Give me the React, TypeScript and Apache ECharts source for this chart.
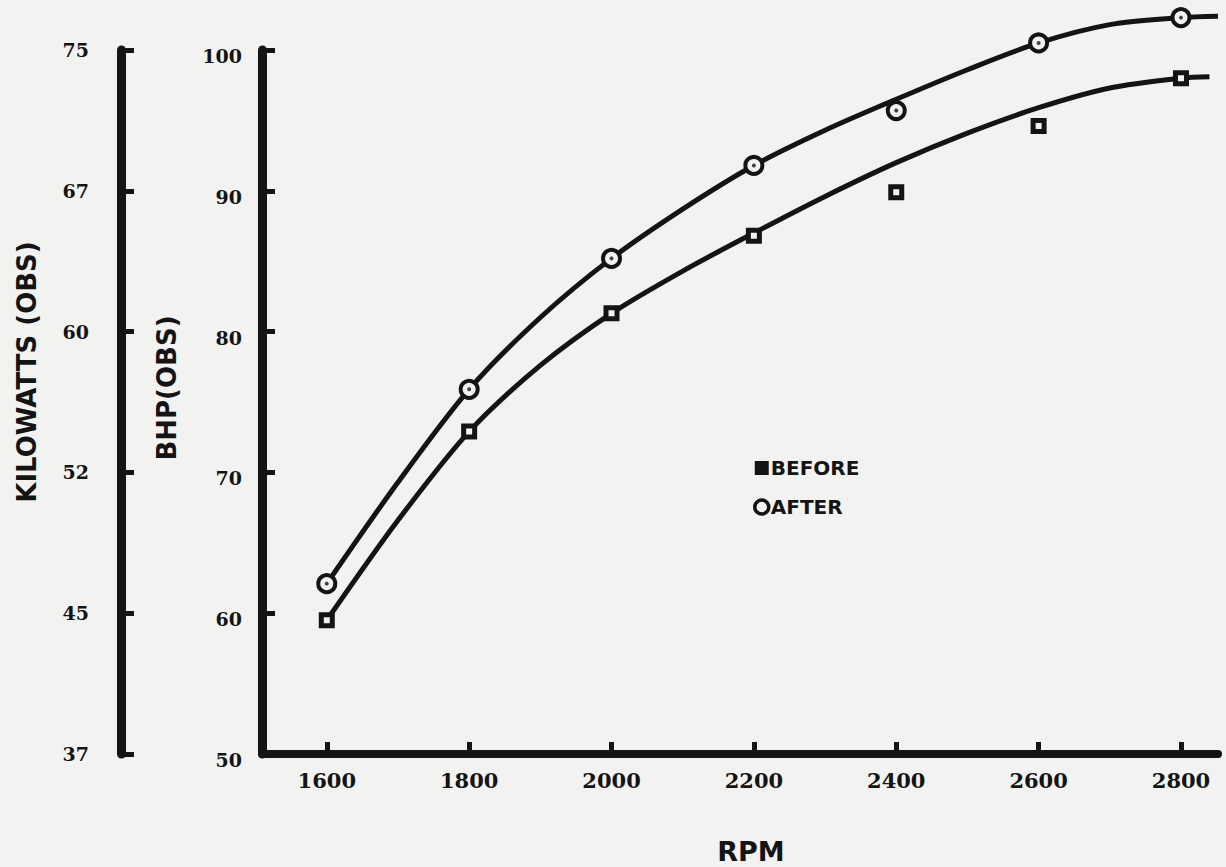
import React, { useEffect, useRef } from "react";
import * as echarts from "echarts";

const RPM = [1600, 1800, 2000, 2200, 2400, 2600, 2800];
const BEFORE_BHP = [59.5, 72.9, 81.3, 86.8, 89.9, 94.6, 98.0];
const AFTER_BHP = [62.1, 75.9, 85.2, 91.8, 95.7, 100.5, 102.3];

const BEFORE_FIT_RPM = [1600, 1700, 1800, 1900, 2000, 2100, 2200, 2300, 2400, 2500, 2600, 2700, 2800, 2840];
const BEFORE_FIT_BHP = [59.5, 66.6, 72.9, 77.6, 81.3, 84.3, 87.0, 89.6, 92.0, 94.1, 95.9, 97.3, 98.0, 98.1];
const AFTER_FIT_RPM = [1600, 1700, 1800, 1900, 2000, 2100, 2200, 2300, 2400, 2500, 2600, 2700, 2800, 2852];
const AFTER_FIT_BHP = [62.1, 69.3, 75.9, 81.0, 85.2, 88.7, 91.8, 94.3, 96.5, 98.6, 100.5, 101.8, 102.3, 102.4];

const RPM_TICKS = [1600, 1800, 2000, 2200, 2400, 2600, 2800];
const BHP_TICKS = [50, 60, 70, 80, 90, 100];
const KW_LABELS = ["37", "45", "52", "60", "67", "75"];

const INK = "#141414";
const BG = "#f2f2f0";

const pairs = (xs: number[], ys: number[]) => xs.map((x, i) => [x, ys[i]]);

export default function App() {
  const ref = useRef<HTMLDivElement>(null);
  useEffect(() => {
    if (!ref.current) return;
    const chart = echarts.init(ref.current, null, { renderer: "svg" });
    const serif = "DejaVu Serif";
    const heavy = "DejaVu Sans";
    const yLabel = { fontFamily: serif, fontWeight: "bold", fontSize: 19, color: INK };
    const tickStyle = { show: true, inside: true, length: 13, lineStyle: { color: INK, width: 5 } };
    chart.setOption({
      animation: false,
      backgroundColor: BG,
      grid: { left: 262, right: 8, top: 50, bottom: 113, outerBoundsMode: "none" },
      xAxis: {
        type: "value",
        min: 1509,
        max: 2852,
        splitLine: { show: false },
        axisLine: { lineStyle: { color: INK, width: 8, cap: "round" } },
        axisTick: { ...tickStyle, length: 12, customValues: RPM_TICKS },
        axisLabel: {
          customValues: RPM_TICKS,
          margin: 16,
          fontFamily: serif,
          fontWeight: "bold",
          fontSize: 21,
          color: INK,
          formatter: (v: number) => String(v),
        },
      },
      yAxis: [
        {
          type: "value",
          position: "left",
          min: 50,
          max: 100,
          interval: 10,
          splitLine: { show: false },
          axisLine: { show: true, lineStyle: { color: INK, width: 9, cap: "round" } },
          axisTick: tickStyle,
          axisLabel: {
            ...yLabel,
            margin: 20,
            formatter: (v: number) => `{a|${v}}`,
            rich: { a: { ...yLabel, padding: [12, 0, 0, 0] } },
          },
        },
        {
          type: "value",
          position: "left",
          offset: 141,
          min: 50,
          max: 100,
          interval: 10,
          splitLine: { show: false },
          axisLine: { show: true, lineStyle: { color: INK, width: 9, cap: "round" } },
          axisTick: tickStyle,
          axisLabel: {
            ...yLabel,
            margin: 32,
            formatter: (v: number) => KW_LABELS[BHP_TICKS.indexOf(Math.round(v))] ?? "",
          },
        },
      ],
      legend: {
        orient: "vertical",
        left: 753,
        top: 458,
        padding: 0,
        itemGap: 19,
        itemWidth: 14,
        itemHeight: 14,
        data: [
          { name: "BEFORE", icon: "rect", itemStyle: { color: INK, borderColor: INK, borderWidth: 0 } },
          { name: "AFTER", icon: "circle", itemStyle: { color: BG, borderColor: INK, borderWidth: 3.5 } },
        ],
        textStyle: { fontFamily: heavy, fontWeight: "bold", fontSize: 20, color: INK, padding: [0, 0, 0, -3] },
      },
      graphic: [
        {
          type: "text",
          x: 27,
          y: 372,
          rotation: Math.PI / 2,
          style: { text: "KILOWATTS (OBS)", font: `bold 26px '${heavy}'`, fill: INK, align: "center", verticalAlign: "middle" },
        },
        {
          type: "text",
          x: 167,
          y: 388,
          rotation: Math.PI / 2,
          style: { text: "BHP(OBS)", font: `bold 26px '${heavy}'`, fill: INK, align: "center", verticalAlign: "middle" },
        },
        {
          type: "text",
          x: 751,
          y: 851,
          style: { text: "RPM", font: `bold 27px '${heavy}'`, fill: INK, align: "center", verticalAlign: "middle" },
        },
      ],
      series: [
        {
          name: "before-fit",
          type: "line",
          data: pairs(BEFORE_FIT_RPM, BEFORE_FIT_BHP),
          smooth: 0.3,
          showSymbol: false,
          clip: false,
          lineStyle: { color: INK, width: 5 },
          z: 2,
        },
        {
          name: "after-fit",
          type: "line",
          data: pairs(AFTER_FIT_RPM, AFTER_FIT_BHP),
          smooth: 0.3,
          showSymbol: false,
          clip: false,
          lineStyle: { color: INK, width: 5 },
          z: 2,
        },
        {
          name: "BEFORE",
          type: "scatter",
          data: pairs(RPM, BEFORE_BHP),
          symbol: "rect",
          symbolSize: 11,
          clip: false,
          itemStyle: { color: BG, borderColor: INK, borderWidth: 5, opacity: 1 },
          z: 3,
        },
        {
          name: "AFTER",
          type: "scatter",
          data: pairs(RPM, AFTER_BHP),
          symbol: "circle",
          symbolSize: 17,
          clip: false,
          itemStyle: { color: BG, borderColor: INK, borderWidth: 4, opacity: 1 },
          z: 3,
        },
        {
          name: "after-dot",
          type: "scatter",
          data: pairs(RPM, AFTER_BHP),
          symbol: "circle",
          symbolSize: 4,
          clip: false,
          itemStyle: { color: INK },
          z: 4,
        },
      ],
    });
    return () => chart.dispose();
  }, []);
  return (
    <div
      ref={ref}
      style={{ position: "fixed", left: 0, top: 0, width: 1226, height: 867, background: BG }}
    />
  );
}
